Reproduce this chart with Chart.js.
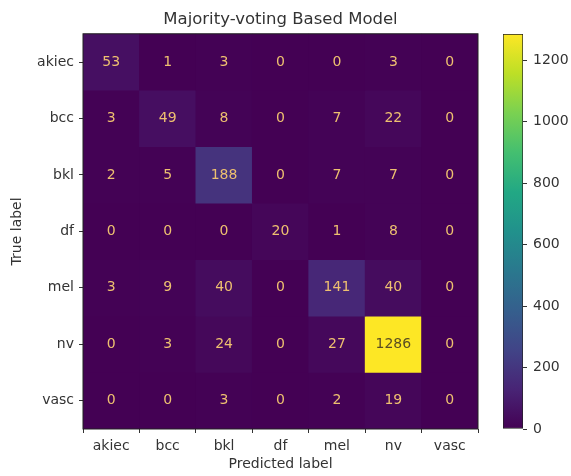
<!DOCTYPE html>
<html>
<head>
<meta charset="utf-8">
<script src="https://cdn.jsdelivr.net/npm/chart.js@4/dist/chart.umd.min.js"></script>
<style>
  html, body { margin: 0; padding: 0; background: #fff; }
  #wrap { position: relative; width: 571px; height: 476px; }
  #wrap canvas { position: absolute; top: 0; }
  #cm { left: 0; }
  #cbar { left: 490px; }
</style>
</head>
<body>
<div id="wrap">
  <canvas id="cm" width="490" height="476"></canvas>
  <canvas id="cbar" width="81" height="476"></canvas>
</div>
<script>
// Class names (rows = true label, columns = predicted label)
const classes = ['akiec', 'bcc', 'bkl', 'df', 'mel', 'nv', 'vasc'];

// Confusion-matrix counts, one array per true class
const rowAkiec = [53, 1, 3, 0, 0, 3, 0];
const rowBcc   = [3, 49, 8, 0, 7, 22, 0];
const rowBkl   = [2, 5, 188, 0, 7, 7, 0];
const rowDf    = [0, 0, 0, 20, 1, 8, 0];
const rowMel   = [3, 9, 40, 0, 141, 40, 0];
const rowNv    = [0, 3, 24, 0, 27, 1286, 0];
const rowVasc  = [0, 0, 3, 0, 2, 19, 0];
const matrix = [rowAkiec, rowBcc, rowBkl, rowDf, rowMel, rowNv, rowVasc];

// Colour-bar tick values
const colorbarTicks = [0, 200, 400, 600, 800, 1000, 1200];

const FONT = "'DejaVu Sans', sans-serif";
const INK = '#333333';

// Viridis colour map stops
const viridis = ['#440154', '#482475', '#414487', '#355f8d', '#2a788e',
                 '#21918c', '#22a884', '#44bf70', '#7ad151', '#bddf26', '#fde725'];
function hexToRgb(h) {
  return [parseInt(h.slice(1, 3), 16), parseInt(h.slice(3, 5), 16), parseInt(h.slice(5, 7), 16)];
}
const viridisRgb = viridis.map(hexToRgb);
function cmap(t) {
  t = Math.max(0, Math.min(1, t));
  const pos = t * (viridisRgb.length - 1);
  const i = Math.min(Math.floor(pos), viridisRgb.length - 2);
  const f = pos - i;
  const a = viridisRgb[i], b = viridisRgb[i + 1];
  const c = a.map((v, k) => Math.round(v + (b[k] - v) * f));
  return `rgb(${c[0]},${c[1]},${c[2]})`;
}

const vmin = 0;
const vmax = Math.max(...matrix.flat());
const threshold = (vmin + vmax) / 2;

// One floating-bar dataset per true-label row; each bar spans one cell
const datasets = matrix.map((row, r) => ({
  label: classes[r],
  data: row.map(() => [r - 0.5, r + 0.5]),
  backgroundColor: row.map(v => cmap((v - vmin) / (vmax - vmin))),
  borderWidth: 0,
  grouped: false,
  barPercentage: 1,
  categoryPercentage: 1
}));

// Fills the plot area first so anti-aliased seams between cells stay dark,
// then writes the counts and outlines the axes box.
const cellPlugin = {
  id: 'cells',
  beforeDatasetsDraw(chart) {
    const { ctx, chartArea: a } = chart;
    ctx.save();
    ctx.fillStyle = cmap(0);
    ctx.fillRect(a.left, a.top, a.right - a.left, a.bottom - a.top);
    ctx.restore();
  },
  afterDatasetsDraw(chart) {
    const { ctx, chartArea: a, scales } = chart;
    ctx.save();
    ctx.font = `14px ${FONT}`;
    ctx.textAlign = 'center';
    ctx.textBaseline = 'middle';
    matrix.forEach((row, r) => {
      row.forEach((v, c) => {
        const x = scales.x.getPixelForValue(c);
        const y = scales.y.getPixelForValue(r);
        ctx.fillStyle = v > threshold ? '#5a4d22' : '#eec070';
        ctx.fillText(String(v), x, y);
      });
    });
    ctx.strokeStyle = '#222';
    ctx.lineWidth = 1;
    ctx.strokeRect(a.left, a.top, a.right - a.left, a.bottom - a.top);
    ctx.restore();
  }
};

new Chart(document.getElementById('cm'), {
  type: 'bar',
  data: { labels: classes, datasets },
  options: {
    responsive: false,
    animation: false,
    devicePixelRatio: 1,
    layout: { padding: { left: 0, right: 12, top: 0, bottom: 0 } },
    plugins: {
      legend: { display: false },
      tooltip: { enabled: false },
      title: {
        display: true,
        fullSize: false,
        text: 'Majority-voting Based Model',
        color: INK,
        font: { family: FONT, size: 16.5, weight: 'normal' },
        padding: { top: 10, bottom: 4 }
      }
    },
    scales: {
      x: {
        type: 'category',
        offset: true,
        grid: { display: true, drawOnChartArea: false, drawTicks: true, tickLength: 4, color: INK },
        border: { display: false },
        ticks: { color: INK, font: { family: FONT, size: 14 }, padding: 5, maxRotation: 0 },
        title: {
          display: true, text: 'Predicted label', color: INK,
          font: { family: FONT, size: 14 }, padding: { top: 3, bottom: 3 }
        },
        afterFit(scale) { scale.height = 47; }
      },
      y: {
        type: 'linear',
        min: -0.5,
        max: 6.5,
        reverse: true,
        grid: { display: true, drawOnChartArea: false, drawTicks: true, tickLength: 4, color: INK },
        border: { display: false },
        afterBuildTicks(scale) {
          scale.ticks = classes.map((_, i) => ({ value: i }));
        },
        ticks: {
          color: INK, font: { family: FONT, size: 14 }, padding: 5,
          callback: v => classes[v]
        },
        title: {
          display: true, text: 'True label', color: INK,
          font: { family: FONT, size: 14 }, padding: { top: 9, bottom: 9 }
        },
        afterFit(scale) { scale.width = 83; }
      }
    }
  },
  plugins: [cellPlugin]
});

// Colour bar: a single floating bar from vmin to vmax filled with the colour map
function colorbarFill(context) {
  const chart = context.chart;
  const area = chart.chartArea;
  if (!area) return cmap(0.5);
  const y = chart.scales.y;
  const g = chart.ctx.createLinearGradient(0, y.getPixelForValue(vmin), 0, y.getPixelForValue(vmax));
  viridis.forEach((col, i) => g.addColorStop(i / (viridis.length - 1), col));
  return g;
}

new Chart(document.getElementById('cbar'), {
  type: 'bar',
  data: {
    labels: [''],
    datasets: [{
      data: [[vmin, vmax]],
      backgroundColor: colorbarFill,
      borderColor: '#222',
      borderWidth: 1,
      borderSkipped: false,
      barPercentage: 1,
      categoryPercentage: 1
    }]
  },
  options: {
    responsive: false,
    animation: false,
    devicePixelRatio: 1,
    layout: { padding: { left: 13, right: 0, top: 34, bottom: 47 } },
    plugins: { legend: { display: false }, tooltip: { enabled: false } },
    scales: {
      x: { display: false },
      y: {
        position: 'right',
        min: vmin,
        max: vmax,
        afterBuildTicks(scale) {
          scale.ticks = colorbarTicks.map(v => ({ value: v }));
        },
        grid: { display: true, drawOnChartArea: false, drawTicks: true, tickLength: 4, color: INK },
        border: { display: false },
        ticks: { color: INK, font: { family: FONT, size: 14 }, padding: 6, callback: v => String(v) },
        afterFit(scale) { scale.width = 48; }
      }
    }
  }
});
</script>
</body>
</html>
